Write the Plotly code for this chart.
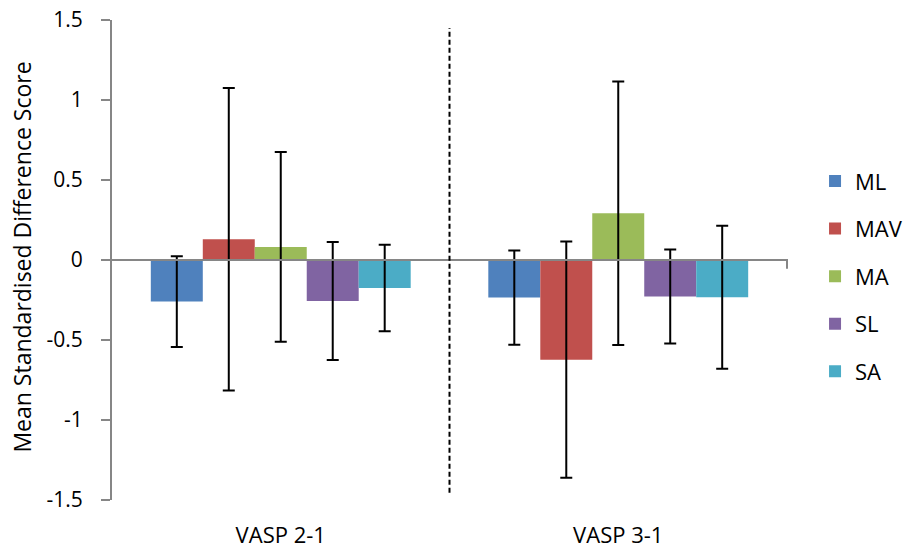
import plotly.graph_objects as go

categories = ["VASP 2-1", "VASP 3-1"]
series_names = ["ML", "MAV", "MA", "SL", "SA"]
ml_values = [-0.26, -0.235]
mav_values = [0.13, -0.623]
ma_values = [0.082, 0.292]
sl_values = [-0.256, -0.228]
sa_values = [-0.175, -0.233]
ml_err = [0.283, 0.295]
mav_err = [0.945, 0.738]
ma_err = [0.593, 0.824]
sl_err = [0.369, 0.294]
sa_err = [0.27, 0.447]
y_tickvals = [-1.5, -1, -0.5, 0, 0.5, 1, 1.5]
y_ticktext = ["-1.5", "-1", "-0.5", "0", "0.5", "1", "1.5"]

colors = ["#4F81BD", "#C0504D", "#9BBB59", "#8064A2", "#4BACC6"]
values = [ml_values, mav_values, ma_values, sl_values, sa_values]
errors = [ml_err, mav_err, ma_err, sl_err, sa_err]

FONT = "Open Sans"
fig = go.Figure()
for name, vals, errs, col in zip(series_names, values, errors, colors):
    fig.add_trace(go.Bar(
        x=categories, y=vals, name=name, legendgroup=name,
        marker=dict(color=col, line=dict(width=0)),
        error_y=dict(type="data", array=errs, symmetric=True,
                     color="black", thickness=2, width=6),
    ))

fig.update_layout(
    width=907, height=549,
    margin=dict(l=112, r=119, t=20, b=49, autoexpand=False),
    paper_bgcolor="white", plot_bgcolor="white",
    barmode="group", bargap=0.23, bargroupgap=0,
    font=dict(family=FONT, size=21, color="black"),
    showlegend=True,
    legend=dict(x=1.04, xanchor="left", y=0.708, yanchor="top",
                tracegroupgap=16, font=dict(size=22, family=FONT),
                bgcolor="rgba(0,0,0,0)"),
    xaxis=dict(showline=False, ticks="", showgrid=False, zeroline=False,
               tickfont=dict(size=22), ticklabelstandoff=20, automargin=False),
    yaxis=dict(range=[-1.5, 1.5], tickvals=y_tickvals, ticktext=y_ticktext,
               showgrid=False, zeroline=False, showline=True,
               linecolor="#868686", linewidth=2, ticks="outside",
               ticklen=9, tickwidth=2, tickcolor="#868686",
               tickfont=dict(size=21), ticklabelstandoff=14, automargin=False),
    annotations=[dict(text="Mean Standardised Difference Score",
                      xref="paper", yref="paper", x=-0.1331, y=0.505,
                      textangle=-90, showarrow=False,
                      font=dict(size=23, family=FONT),
                      xanchor="center", yanchor="middle")],
    shapes=[
        dict(type="line", xref="paper", yref="y", x0=0, x1=1, y0=0, y1=0,
             line=dict(color="#868686", width=2), layer="above"),
        dict(type="line", xref="x", yref="y", x0=1.5, x1=1.5, y0=0, y1=-0.055,
             line=dict(color="#868686", width=2), layer="above"),
        dict(type="line", xref="x", yref="y", x0=0.5, x1=0.5, y0=-1.455, y1=1.45,
             line=dict(color="black", width=2, dash="5px,3px"), layer="above"),
    ],
)

fig.write_html("out.html", config={"displayModeBar": False},
               post_script="document.body.style.margin='0';document.body.style.overflow='hidden';")
